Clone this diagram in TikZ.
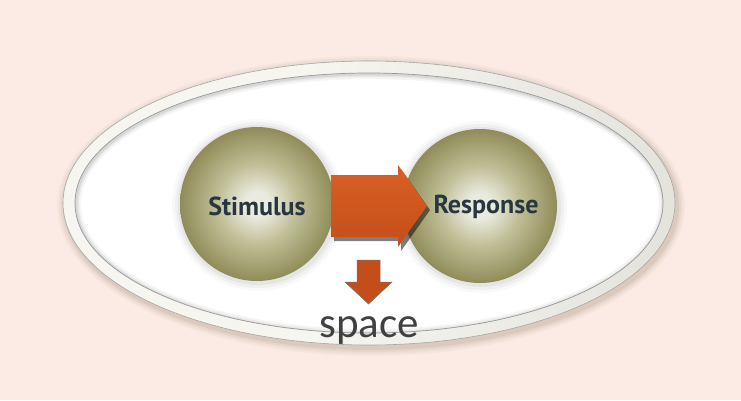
\documentclass[tikz,border=0pt]{standalone}
\usepackage{fontspec}
\newfontfamily\lblfont{PT Sans}
\newfontfamily\spacefont{Carlito}
\definecolor{bgpink}{RGB}{252,235,228}
\definecolor{ringL}{RGB}{246,245,240}
\definecolor{ringR}{RGB}{212,211,203}
\definecolor{sphC}{RGB}{234,235,224}
\definecolor{sphL}{RGB}{192,190,150}
\definecolor{sphM}{RGB}{140,136,84}
\definecolor{sphO}{RGB}{118,113,60}
\definecolor{sphD}{RGB}{88,83,36}
\definecolor{arrT}{RGB}{218,96,36}
\definecolor{arrB}{RGB}{196,78,26}
\definecolor{txtdark}{RGB}{40,54,64}
\definecolor{spacegray}{RGB}{64,64,64}
\pgfdeclareradialshading{sph}{\pgfpoint{0bp}{0bp}}{color(0bp)=(sphC); color(4bp)=(sphC); color(13bp)=(sphL); color(26bp)=(sphM); color(40bp)=(sphO); color(50bp)=(sphD)}
\pgfdeclarehorizontalshading{ring}{100bp}{color(0bp)=(ringL); color(45bp)=(ringL); color(100bp)=(ringR)}
\tikzset{
  sphere/.style={circle, minimum size=154pt, inner sep=0pt, shading=sph},
  lbl/.style={font=\lblfont\bfseries\fontsize{26}{26}\selectfont, text=txtdark},
  bigarrow/.style={top color=arrT, bottom color=arrB, draw=none},
}
\begin{document}
\begin{tikzpicture}[x=1pt,y=-1pt]
\fill[bgpink] (0,0) rectangle (741,400);
\useasboundingbox (0,0) rectangle (741,400);
% ellipse shadow
\foreach \d/\o in {8/0.03,6/0.04,4/0.05,2/0.07}
  \fill[black!60!brown, opacity=\o] (371,206) ellipse [x radius=306+\d, y radius=142+\d];
% ring
\path[shading=ring] (369,203) ellipse [x radius=306, y radius=142];
\draw[black!35, line width=0.6pt] (369,203) ellipse [x radius=306, y radius=142];
\fill[white] (369,203) ellipse [x radius=294, y radius=130];
\begin{scope}
  \clip (369,203) ellipse [x radius=294, y radius=130];
  \foreach \w/\o in {10/0.04,6/0.05,3/0.07}
    \draw[black, opacity=\o, line width=\w pt] (370,204) ellipse [x radius=294, y radius=130];
\end{scope}
\draw[black!40, line width=0.7pt] (369,203) ellipse [x radius=294, y radius=130];
% sphere halos
\foreach \r/\o in {86/0.025,83/0.035,80/0.045}{
  \fill[black, opacity=\o] (258,205) circle (\r);
  \fill[black, opacity=\o] (481,207) circle (\r);
}
% spheres
\node[sphere] (stim) at (257,204) {};
\node[sphere] (resp) at (480,206) {};
% main arrow
\coordinate (a0) at (331,206);
\fill[black, opacity=0.5] ([shift={(3,4)}]a0) ++(0,-31) -- ++(67,0) -- ++(0,-10) -- ++(29,41) -- ++(-29,41) -- ++(0,-10) -- ++(-67,0) -- cycle;
\path[bigarrow] (a0) ++(0,-31) -- ++(67,0) -- ++(0,-10) -- ++(29,41) -- ++(-29,41) -- ++(0,-10) -- ++(-67,0) -- cycle;
% labels
\node[lbl] (stimlbl) at (257,206) {Stimulus};
\node[lbl] (resplbl) at (486,207) {Response};
% small down arrow
\coordinate (d0) at (368.5,260);
\filldraw[fill=arrB, draw=black!55, line width=0.5pt] (d0) ++(-11.5,0) -- ++(23,0) -- ++(0,22) -- ++(12,0) -- ++(-23.5,22) -- ++(-23.5,-22) -- ++(12,0) -- cycle;
% space text
\node[font=\spacefont\fontsize{43}{43}\selectfont, text=spacegray, anchor=base] (space) at (369,337) {space};
\end{tikzpicture}
\end{document}
